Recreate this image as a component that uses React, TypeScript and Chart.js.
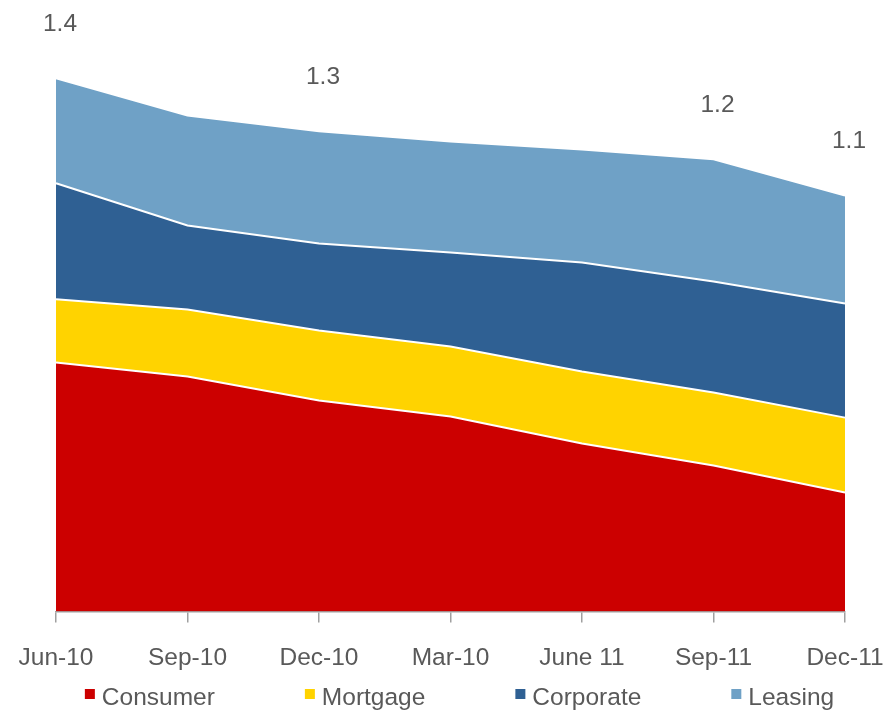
import React, { useEffect, useRef } from "react";
import { Chart, registerables } from "chart.js";

Chart.register(...registerables);

const categories = ["Jun-10", "Sep-10", "Dec-10", "Mar-10", "June 11", "Sep-11", "Dec-11"];
const consumer = [0.655, 0.618, 0.555, 0.513, 0.442, 0.384, 0.313];
const mortgage = [0.166, 0.176, 0.184, 0.184, 0.189, 0.192, 0.197];
const corporate = [0.305, 0.221, 0.229, 0.247, 0.287, 0.292, 0.3];
const leasing = [0.276, 0.289, 0.295, 0.292, 0.297, 0.321, 0.284];
const totalLabels = ["1.4", "", "1.3", "", "", "1.2", "1.1"];

const seriesNames = ["Consumer", "Mortgage", "Corporate", "Leasing"];
const seriesColors = ["#CC0000", "#FFD300", "#2F6093", "#6FA1C6"];

const FONT = "'Liberation Sans', Arial, sans-serif";
const FONT_SIZE = 24.5;
const TEXT = "#595959";

const overlayPlugin = {
  id: "overlay",
  afterDraw(chart: any) {
    const ctx = chart.ctx;
    const xs = chart.scales.x;
    const ys = chart.scales.y;
    ctx.save();
    ctx.fillStyle = TEXT;
    ctx.font = `${FONT_SIZE}px ${FONT}`;
    ctx.textAlign = "center";
    ctx.textBaseline = "middle";
    totalLabels.forEach((t, i) => {
      if (!t) return;
      const total = consumer[i] + mortgage[i] + corporate[i] + leasing[i];
      const x = xs.getPixelForValue(i);
      const y = ys.getPixelForValue(total);
      ctx.fillText(t, x + 4, y - 54);
    });
    // legend
    const box = 10;
    const boxGap = 7;
    const itemGap = 90;
    const widths = seriesNames.map((n) => box + boxGap + ctx.measureText(n).width);
    const total = widths.reduce((a, b) => a + b, 0) + itemGap * (widths.length - 1);
    const center = (chart.chartArea.left + chart.chartArea.right) / 2 + 9;
    let x = center - total / 2;
    const cy = 698;
    ctx.textAlign = "left";
    seriesNames.forEach((n, i) => {
      ctx.fillStyle = seriesColors[i];
      ctx.fillRect(x, cy - 9, box, box);
      ctx.fillStyle = TEXT;
      ctx.fillText(n, x + box + boxGap, cy);
      x += widths[i] + itemGap;
    });
    ctx.restore();
  },
};

export default function App() {
  const ref = useRef<HTMLCanvasElement | null>(null);
  useEffect(() => {
    if (!ref.current) return;
    const series = [consumer, mortgage, corporate, leasing];
    const chart = new Chart(ref.current, {
      type: "line",
      data: {
        labels: categories,
        datasets: series.map((d, i) => ({
          label: seriesNames[i],
          data: d,
          backgroundColor: seriesColors[i],
          borderColor: "#FFFFFF",
          borderWidth: 2,
          pointRadius: 0,
          tension: 0,
          fill: i === 0 ? "origin" : "-1",
        })),
      },
      options: {
        animation: false,
        responsive: false,
        maintainAspectRatio: false,
        layout: { padding: { left: 56, right: 42, top: 3, bottom: 16 } },
        plugins: { legend: { display: false }, tooltip: { enabled: false } },
        scales: {
          x: {
            afterFit(scale: any) {
              scale.paddingLeft = 0;
              scale.paddingRight = 0;
            },
            grid: {
              display: true,
              drawOnChartArea: false,
              drawTicks: true,
              tickLength: 11,
              color: "#A0A0A0",
              lineWidth: 1.5,
            },
            border: { display: true, color: "#A0A0A0", width: 1.5 },
            ticks: {
              color: TEXT,
              font: { family: FONT, size: FONT_SIZE },
              padding: 21,
              maxRotation: 0,
              autoSkip: false,
            },
          },
          y: { display: false, stacked: true, min: 0, max: 1.6 },
        },
      },
      plugins: [overlayPlugin],
    });
    return () => chart.destroy();
  }, []);
  return (
    <div style={{ position: "absolute", left: 0, top: 0, width: 887, height: 710, overflow: "hidden", background: "#fff" }}>
      <canvas ref={ref} width={887} height={710} style={{ width: 887, height: 710, display: "block" }} />
    </div>
  );
}
